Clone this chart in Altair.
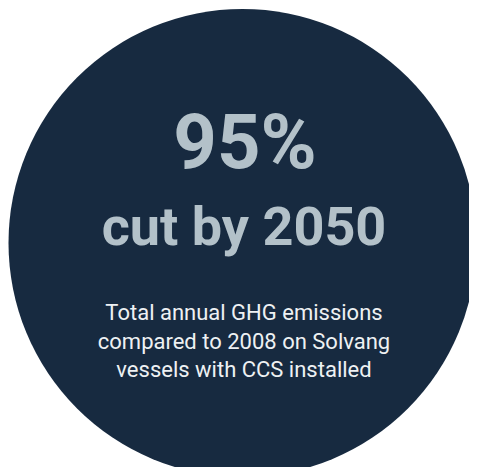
import altair as alt
import pandas as pd

headline = ["95%"]
subhead = ["cut by 2050"]
caption_lines = [
    "Total annual GHG emissions",
    "compared to 2008 on Solvang",
    "vessels with CCS installed",
]
circle_label = ["badge"]

BG = "#172a40"
HEAD = "#b3c1c9"
CAP = "#eef1f3"
COND = "Roboto, Liberation Sans, sans-serif"

W, H = 461, 459
CX, CY, D = 234.5, 235, 468

circle = alt.Chart(pd.DataFrame({"k": circle_label})).mark_circle(
    color=BG, opacity=1, size=D * D
).encode(x=alt.value(CX), y=alt.value(CY))

t1 = alt.Chart(pd.DataFrame({"t": headline})).mark_text(
    font=COND, fontSize=76, fontWeight="bold", color=HEAD,
    align="center", baseline="alphabetic"
).encode(x=alt.value(237), y=alt.value(160), text="t:N")

t2 = alt.Chart(pd.DataFrame({"t": subhead})).mark_text(
    font=COND, fontSize=54, fontWeight="bold", color=HEAD,
    align="center", baseline="alphabetic"
).encode(x=alt.value(236), y=alt.value(237), text="t:N")

t3 = alt.Chart(pd.DataFrame({"t": ["\n".join(caption_lines)]})).mark_text(
    font="Roboto", fontSize=22, color=CAP, lineBreak="\n", lineHeight=28.5,
    align="center", baseline="alphabetic"
).encode(x=alt.value(236), y=alt.value(312), text="t:N")

chart = alt.layer(circle, t1, t2, t3).properties(
    width=W, height=H, padding=0, autosize=alt.AutoSizeParams(type="none")
).configure_view(stroke=None)

chart.save("out.html", embed_options={"renderer": "svg", "actions": False})
